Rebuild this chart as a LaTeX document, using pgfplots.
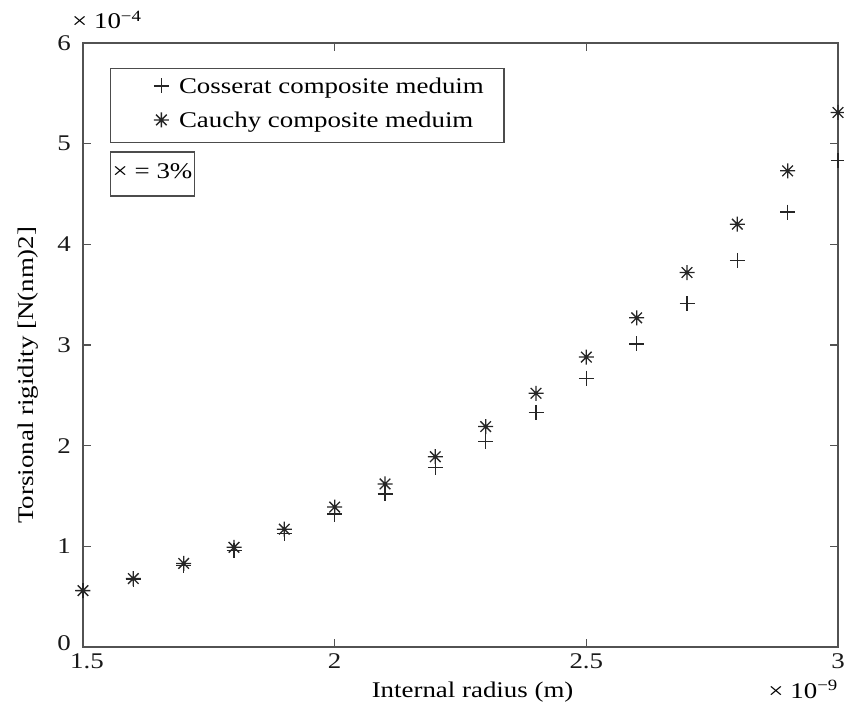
\documentclass[border=0pt]{standalone}
\usepackage{fontspec}
\setmainfont{Liberation Serif}[FakeStretch=1.2]
\usepackage{pgfplots}
\usepackage{pgfplotstable}
\pgfplotsset{compat=1.18}
\usetikzlibrary{calc}

\pgfdeclareplotmark{mstar}{%
  \pgfpathmoveto{\pgfqpoint{-\pgfplotmarksize}{0pt}}%
  \pgfpathlineto{\pgfqpoint{\pgfplotmarksize}{0pt}}%
  \pgfpathmoveto{\pgfqpoint{0pt}{-\pgfplotmarksize}}%
  \pgfpathlineto{\pgfqpoint{0pt}{\pgfplotmarksize}}%
  \pgfpathmoveto{\pgfqpoint{-0.707\pgfplotmarksize}{-0.707\pgfplotmarksize}}%
  \pgfpathlineto{\pgfqpoint{0.707\pgfplotmarksize}{0.707\pgfplotmarksize}}%
  \pgfpathmoveto{\pgfqpoint{-0.707\pgfplotmarksize}{0.707\pgfplotmarksize}}%
  \pgfpathlineto{\pgfqpoint{0.707\pgfplotmarksize}{-0.707\pgfplotmarksize}}%
  \pgfusepathqstroke}

\pgfplotstableread{
x    cosserat cauchy
1.5  0.56  0.56
1.6  0.67  0.68
1.7  0.81  0.83
1.8  0.96  0.99
1.9  1.13  1.17
2.0  1.32  1.39
2.1  1.52  1.62
2.2  1.78  1.89
2.3  2.04  2.19
2.4  2.33  2.52
2.5  2.67  2.88
2.6  3.01  3.27
2.7  3.41  3.72
2.8  3.84  4.20
2.9  4.32  4.73
3.0  4.83  5.31
}\datatable

\begin{document}
\begin{tikzpicture}[font=\fontsize{22.5}{26}\selectfont]
\begin{axis}[
  name=ax,
  scale only axis,
  width=755bp, height=604bp,
  xmin=1.5, xmax=3, ymin=0, ymax=6,
  xtick={1.5,2,2.5,3}, xticklabels={\hbox{\kern8bp 1.5},2,2.5,3},
  ytick={0,1,2,3,4,5,6},
  yticklabels={\raisebox{7bp}{0},1,2,3,4,5,\raisebox{-4.5bp}{6}},
  tick align=inside,
  major tick length=8bp,
  axis line style={line width=1.6bp, color=black!68},
  every tick/.style={line width=1.4bp, color=black!68},
  ticklabel style={font=\fontsize{22.5}{26}\selectfont, text=black!90},
  yticklabel style={inner sep=0pt, xshift=-12bp},
  xticklabel style={inner sep=0pt, yshift=-6.5bp},
  xlabel={Internal radius (m)},
  ylabel={Torsional rigidity [N(nm)2]},
  xlabel style={at={(axis description cs:0.516,-0.0844)}, anchor=base},
  ylabel style={at={(axis description cs:-0.0662,0.450)}, anchor=base},
  legend cell align=left,
  legend style={
    at={(axis description cs:0.0358,0.959)}, anchor=north west,
    draw=black!70, line width=1.4bp,
    inner xsep=0pt, inner ysep=10bp, row sep=14bp,
    nodes={inner sep=0pt, text height=15bp, text depth=5bp},
  },
  legend image code/.code={%
    \path (-50bp,0bp) (17bp,0bp);
    \draw[#1, line width=1.3bp] plot coordinates {(0bp,0.25em)};
  },
]
\addplot[only marks, mark=+, mark size=7.5bp, line width=1.3bp, color=black!85]
  table[x=x, y=cosserat] {\datatable};
\addlegendentry{\makebox[325bp][l]{Cosserat composite meduim}}
\addplot[only marks, mark=mstar, mark size=7.5bp, line width=1.3bp, color=black!85]
  table[x=x, y=cauchy] {\datatable};
\addlegendentry{\makebox[325bp][l]{Cauchy composite meduim}}

\node[draw=black!70, line width=1.4bp, anchor=north west, inner xsep=2bp, inner ysep=12bp,
      text height=15bp, text depth=5bp]
  at (axis description cs:0.0358,0.821) {× = 3\%};
\end{axis}
\node[anchor=base west, inner sep=0pt] at ($(ax.north west)+(-11bp,14bp)$) {× 10\textsuperscript{−4}};
\node[anchor=base east, inner sep=0pt] at ($(ax.south east)+(0bp,-51bp)$) {× 10\textsuperscript{−9}};
\pgfresetboundingbox
\useasboundingbox ($(ax.south west)+(-83bp,-70bp)$) rectangle ($(ax.north east)+(6bp,43bp)$);
\end{tikzpicture}
\end{document}
